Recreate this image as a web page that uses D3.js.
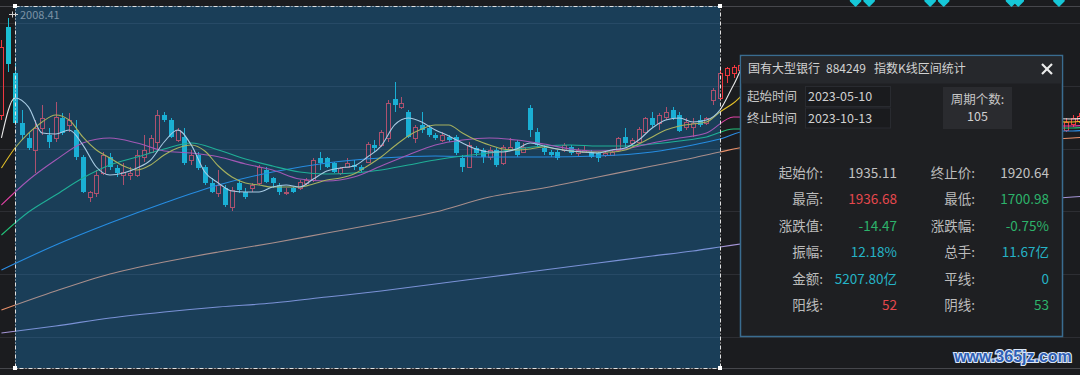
<!DOCTYPE html>
<html>
<head>
<meta charset="utf-8">
<script src="https://cdn.jsdelivr.net/npm/d3@7"></script>
<style>
  html, body { margin: 0; padding: 0; background: #1b1c1f; }
  svg { display: block; font-family: "Noto Sans CJK SC", "Noto Sans", sans-serif; }
</style>
</head>
<body>
<div id="chart"></div>
<script>
const WIDTH = 1080, HEIGHT = 375;

// trading-day index: 0 = 2023-05-10 ... 104 = 2023-10-13
const candleDays = d3.range(-2, 108).concat([155, 156, 157]);
const opens = [
  1853.5, 1993.6, 1920.4, 1840.0, 1816.9, 1797.8, 1832.8, 1821.7, 1816.9, 1848.7,
  1837.6, 1829.6, 1786.6, 1722.9, 1729.3, 1761.1, 1786.6, 1769.1, 1758.0, 1758.0,
  1758.0, 1786.6, 1794.6, 1810.5, 1853.5, 1845.5, 1813.7, 1818.5, 1781.8, 1789.8,
  1770.7, 1745.2, 1729.3, 1737.3, 1707.0, 1745.2, 1730.9, 1737.3, 1745.2, 1765.9,
  1753.2, 1742.0, 1729.3, 1737.3, 1737.3, 1745.2, 1750.0, 1785.0, 1785.0, 1777.1,
  1761.1, 1770.7, 1773.9, 1770.7, 1778.7, 1805.7, 1805.7, 1816.9, 1879.0, 1866.2,
  1858.3, 1816.9, 1837.6, 1832.8, 1821.7, 1813.7, 1818.5, 1818.5, 1785.0, 1770.7,
  1801.0, 1797.8, 1786.6, 1797.8, 1777.1, 1797.8, 1810.5, 1794.6, 1864.6, 1826.4,
  1801.0, 1794.6, 1794.6, 1797.8, 1802.5, 1793.0, 1794.6, 1794.6, 1793.0, 1789.8,
  1789.8, 1797.8, 1818.5, 1808.9, 1810.5, 1826.4, 1848.7, 1840.8, 1850.3, 1861.5,
  1853.5, 1834.4, 1834.4, 1845.5, 1840.8, 1877.4, 1880.6, 1917.2, 1920.4, 1925.2,
  1829.6, 1839.2, 1844.0
];
const highs = [
  1972.9, 2008.41, 1936.68, 1861.5, 1824.8, 1845.5, 1869.4, 1832.8, 1874.2, 1856.7,
  1856.7, 1845.5, 1789.8, 1732.5, 1765.9, 1794.6, 1793.0, 1773.9, 1777.1, 1770.7,
  1797.8, 1821.7, 1821.7, 1861.5, 1858.3, 1848.7, 1832.8, 1832.8, 1797.8, 1794.6,
  1773.9, 1753.2, 1765.9, 1742.0, 1738.8, 1750.0, 1737.3, 1745.2, 1773.9, 1770.7,
  1754.8, 1745.2, 1737.3, 1738.8, 1750.0, 1753.2, 1785.0, 1794.6, 1786.6, 1778.7,
  1770.7, 1785.0, 1781.8, 1773.9, 1810.5, 1813.7, 1829.6, 1877.4, 1906.0, 1882.2,
  1861.5, 1837.6, 1858.3, 1837.6, 1824.8, 1826.4, 1821.7, 1821.7, 1789.8, 1810.5,
  1804.1, 1801.0, 1802.5, 1801.0, 1805.7, 1816.9, 1813.7, 1808.9, 1869.4, 1832.8,
  1805.7, 1797.8, 1797.8, 1808.9, 1805.7, 1801.0, 1805.7, 1797.8, 1794.6, 1796.2,
  1797.8, 1818.5, 1832.8, 1816.9, 1834.4, 1850.3, 1858.3, 1856.7, 1866.2, 1866.2,
  1858.3, 1848.7, 1848.7, 1853.5, 1850.3, 1896.5, 1925.2, 1929.9, 1933.1, 1937.9,
  1848.7, 1853.5, 1856.7
];
const lows = [
  1845.5, 1922.0, 1837.6, 1813.7, 1797.8, 1761.1, 1821.7, 1801.0, 1810.5, 1821.7,
  1826.4, 1781.8, 1729.3, 1715.0, 1722.9, 1758.0, 1765.9, 1754.8, 1742.0, 1750.0,
  1754.8, 1778.7, 1793.0, 1797.8, 1842.4, 1816.9, 1810.5, 1773.9, 1773.9, 1765.9,
  1742.0, 1729.3, 1722.9, 1707.0, 1700.98, 1729.3, 1719.7, 1730.9, 1742.0, 1745.2,
  1737.3, 1726.1, 1726.1, 1729.3, 1734.1, 1742.0, 1746.8, 1765.9, 1769.1, 1761.1,
  1758.0, 1769.1, 1765.9, 1762.7, 1777.1, 1794.6, 1802.5, 1810.5, 1858.3, 1863.1,
  1816.9, 1808.9, 1824.8, 1818.5, 1813.7, 1810.5, 1810.5, 1789.8, 1762.7, 1769.1,
  1788.2, 1777.1, 1781.8, 1770.7, 1773.9, 1797.8, 1786.6, 1793.0, 1818.5, 1802.5,
  1789.8, 1786.6, 1781.8, 1794.6, 1789.8, 1786.6, 1793.0, 1785.0, 1778.7, 1786.6,
  1788.2, 1794.6, 1802.5, 1802.5, 1808.9, 1824.8, 1834.4, 1829.6, 1845.5, 1845.5,
  1826.4, 1829.6, 1818.5, 1834.4, 1837.6, 1869.4, 1877.4, 1904.5, 1912.4, 1922.0,
  1826.4, 1834.4, 1840.8
];
const closes = [
  1961.8, 1935.11, 1840.8, 1821.7, 1801.0, 1832.8, 1848.7, 1810.5, 1850.3, 1824.8,
  1845.5, 1786.6, 1730.9, 1730.9, 1758.0, 1789.8, 1770.7, 1761.1, 1762.7, 1761.1,
  1789.8, 1797.8, 1816.9, 1853.5, 1845.5, 1818.5, 1829.6, 1777.1, 1789.8, 1769.1,
  1745.2, 1730.9, 1742.0, 1710.2, 1734.1, 1734.1, 1722.9, 1742.0, 1770.7, 1746.8,
  1745.2, 1730.9, 1730.9, 1730.9, 1746.8, 1750.0, 1781.8, 1777.1, 1770.7, 1762.7,
  1769.1, 1777.1, 1770.7, 1765.9, 1807.3, 1801.0, 1826.4, 1872.6, 1869.4, 1872.6,
  1818.5, 1834.4, 1829.6, 1821.7, 1816.9, 1821.7, 1813.7, 1793.0, 1770.7, 1805.7,
  1793.0, 1786.6, 1797.8, 1773.9, 1802.5, 1802.5, 1789.8, 1802.5, 1829.6, 1805.7,
  1794.6, 1789.8, 1785.0, 1805.7, 1793.0, 1797.8, 1797.8, 1786.6, 1785.0, 1793.0,
  1794.6, 1816.9, 1808.9, 1813.7, 1831.2, 1848.7, 1837.6, 1853.5, 1858.3, 1848.7,
  1828.0, 1842.4, 1840.8, 1837.6, 1848.7, 1893.3, 1920.64, 1928.3, 1929.9, 1933.1,
  1842.4, 1848.7, 1852.0
];

// moving averages
const fineDays = d3.range(-2, 110, 2).concat([156, 158]);
const ma5 = [
  1816.9, 1880.6, 1866.0, 1824.8, 1823.2, 1829.6, 1806.0, 1770.7, 1758.0, 1761.1,
  1769.1, 1781.8, 1810.5, 1829.6, 1805.7, 1762.7, 1745.2, 1732.5, 1730.9, 1730.9,
  1738.8, 1742.0, 1738.8, 1751.6, 1764.3, 1769.1, 1772.3, 1786.6, 1804.1, 1837.6,
  1848.7, 1842.4, 1829.6, 1820.1, 1808.9, 1799.4, 1794.6, 1794.6, 1799.4, 1808.9,
  1804.1, 1799.4, 1796.2, 1794.6, 1793.0, 1797.8, 1801.0, 1813.7, 1832.8, 1845.5,
  1848.7, 1842.4, 1845.5, 1861.5, 1901.3, 1937.9,
  1847.1, 1848.7
];
const ma10 = [
  1769.1, 1801.0, 1824.8, 1842.4, 1853.5, 1845.5, 1818.5, 1797.8, 1785.0, 1772.3,
  1765.9, 1773.9, 1789.8, 1801.0, 1805.7, 1796.2, 1772.3, 1754.8, 1745.2, 1742.0,
  1738.8, 1738.8, 1738.8, 1743.6, 1750.0, 1753.2, 1759.6, 1772.3, 1786.6, 1804.1,
  1820.1, 1831.2, 1837.6, 1837.6, 1824.8, 1813.7, 1805.7, 1799.4, 1797.8, 1799.4,
  1802.5, 1799.4, 1796.2, 1794.6, 1794.6, 1794.6, 1797.8, 1807.3, 1818.5, 1829.6,
  1836.0, 1839.2, 1842.4, 1858.3, 1872.6, 1888.5,
  1842.4, 1844.0
];
const midDays = d3.range(-2, 110, 4).concat([156, 158]);
const ma20 = [
  1710.2, 1750.0, 1781.8, 1808.9, 1816.9, 1808.9, 1796.2, 1793.0, 1787.0, 1775.5,
  1765.9, 1751.6, 1748.4, 1754.8, 1772.3, 1789.8, 1805.7, 1813.7, 1816.9, 1813.7,
  1807.3, 1799.4, 1796.2, 1799.4, 1808.9, 1816.9, 1824.8, 1850.3,
  1836.0, 1837.6
];
const ma30 = [
  1662.4, 1699.0, 1726.1, 1753.2, 1773.9, 1786.6, 1799.4, 1808.9, 1797.8, 1783.4,
  1772.3, 1762.7, 1759.6, 1761.1, 1765.9, 1773.9, 1781.8, 1788.2, 1793.0, 1799.4,
  1804.1, 1805.7, 1804.1, 1804.1, 1807.3, 1812.1, 1818.5, 1831.2,
  1832.8, 1834.4
];
const coarseDays = [-2, 6, 14, 22, 30, 38, 46, 54, 62, 70, 78, 86, 94, 100, 104, 108, 156, 158];
const ma60 = [1606.7, 1646.5, 1681.5, 1713.4, 1742.0, 1762.7, 1777.1, 1785.0, 1788.2, 1786.6,
  1786.6, 1788.2, 1794.6, 1805.7, 1815.3, 1828.0, 1828.0, 1829.6];
const ma120 = [1543.0, 1573.2, 1600.3, 1619.4, 1635.3, 1649.7, 1665.6, 1681.5, 1699.0, 1722.9,
  1737.3, 1754.8, 1772.3, 1785.0, 1794.6, 1802.5, 1816.9, 1818.5];
const ma250 = [1506.4, 1517.5, 1530.2, 1539.8, 1547.8, 1554.1, 1563.6, 1573.2, 1584.4, 1595.5,
  1606.7, 1617.8, 1629.0, 1636.9, 1643.3, 1649.7, 1722.9, 1724.5];

const gridPrices = [2000, 1900, 1800, 1700, 1600, 1500];
const signalDays = [124, 126, 135, 137, 147, 148, 154];

// selection statistics
const titleParts = ["国有大型银行", "884249", "指数K线区间统计"];
const rangeLabels = ["起始时间", "终止时间"];
const rangeDates = ["2023-05-10", "2023-10-13"];
const periodCount = "105";
const statRows = [
  ["起始价:", "1935.11", "flat", "终止价:", "1920.64", "flat"],
  ["最高:", "1936.68", "up", "最低:", "1700.98", "down"],
  ["涨跌值:", "-14.47", "down", "涨跌幅:", "-0.75%", "down"],
  ["振幅:", "12.18%", "info", "总手:", "11.67亿", "info"],
  ["金额:", "5207.80亿", "info", "平线:", "0", "info"],
  ["阳线:", "52", "up", "阴线:", "53", "down"]
];

const UP = "#f0383f", DOWN = "#1bbfd2";
const TEXT_COLORS = {flat: "#c2c2c2", up: "#e5484d", down: "#2db36b", info: "#25b3c6"};

const svg = d3.select("#chart").append("svg")
    .attr("width", WIDTH)
    .attr("height", HEIGHT);

svg.append("rect").attr("width", WIDTH).attr("height", HEIGHT).attr("fill", "#1b1c1f");

const x = d3.scaleLinear().domain([0, 104]).range([15, 720]);
const y = d3.scaleLinear().domain([1500, 2000]).range([337, 23]);

// grid
svg.append("g").selectAll("line").data(gridPrices).join("line")
    .attr("x1", 0).attr("x2", WIDTH)
    .attr("y1", d => Math.round(y(d)) + 0.5)
    .attr("y2", d => Math.round(y(d)) + 0.5)
    .attr("stroke", "#2d2e33");

svg.append("g").selectAll("line").data([6.5, 368.5]).join("line")
    .attr("x1", 0).attr("x2", WIDTH)
    .attr("y1", d => d).attr("y2", d => d)
    .attr("stroke", "#46474c");

// candles
const candles = candleDays.map((d, i) => ({day: d, o: opens[i], h: highs[i], l: lows[i], c: closes[i]}));

svg.append("g").selectAll("g").data(candles).join("g")
  .each(function(d) {
    const g = d3.select(this);
    const cx = Math.round(x(d.day));
    const up = d.c > d.o;
    const top = Math.round(y(Math.max(d.o, d.c)));
    const bot = Math.round(y(Math.min(d.o, d.c)));
    const hi = Math.round(y(d.h)), lo = Math.round(y(d.l));
    if (up) {
      g.append("line").attr("x1", cx + 0.5).attr("x2", cx + 0.5).attr("y1", hi).attr("y2", top)
        .attr("stroke", UP);
      g.append("line").attr("x1", cx + 0.5).attr("x2", cx + 0.5).attr("y1", bot).attr("y2", lo)
        .attr("stroke", UP);
      g.append("rect").attr("x", cx - 1.5).attr("y", top + 0.5)
        .attr("width", 4).attr("height", Math.max(bot - top, 1))
        .attr("fill", "none").attr("stroke", UP);
    } else {
      g.append("line").attr("x1", cx + 0.5).attr("x2", cx + 0.5).attr("y1", hi).attr("y2", lo)
        .attr("stroke", DOWN);
      g.append("rect").attr("x", cx - 2).attr("y", top)
        .attr("width", 5).attr("height", Math.max(bot - top, 1))
        .attr("fill", DOWN);
    }
  });

// moving average lines
const maSeries = [
  {days: coarseDays, vals: ma250, color: "#a595d6"},
  {days: coarseDays, vals: ma120, color: "#e8906a"},
  {days: coarseDays, vals: ma60, color: "#2c8ee6"},
  {days: midDays, vals: ma30, color: "#22c07a"},
  {days: midDays, vals: ma20, color: "#e042a6"},
  {days: fineDays, vals: ma10, color: "#e6c228"},
  {days: fineDays, vals: ma5, color: "#e8e8e8"}
];

const lineGen = d3.line()
    .x(d => x(d[0]))
    .y(d => y(d[1]))
    .curve(d3.curveMonotoneX);

svg.append("g").selectAll("path").data(maSeries).join("path")
    .attr("d", s => lineGen(s.days.map((d, i) => [d, s.vals[i]])))
    .attr("fill", "none")
    .attr("stroke", s => s.color)
    .attr("stroke-width", 1.1);

// selected interval shade
const selX0 = x(0), selX1 = x(104);
svg.append("rect")
    .attr("x", selX0).attr("y", 6)
    .attr("width", selX1 - selX0).attr("height", 362)
    .attr("fill", "rgb(27,140,215)").attr("fill-opacity", 0.31);

svg.append("rect")
    .attr("x", selX0 + 0.5).attr("y", 6.5)
    .attr("width", selX1 - selX0).attr("height", 362)
    .attr("fill", "none")
    .attr("stroke", "#e2e2e2")
    .attr("stroke-dasharray", "4,2,1,2");

svg.append("g").selectAll("rect")
  .data([[selX0, 6], [selX1, 6], [selX0, 368], [selX1, 368]])
  .join("rect")
    .attr("x", d => d[0] - 2).attr("y", d => d[1] - 2)
    .attr("width", 4).attr("height", 4)
    .attr("fill", "#ffffff");

// highest price marker
const hiIdx = highs.indexOf(d3.max(highs));
const hiY = Math.round(y(highs[hiIdx])) - 3.5;
svg.append("line").attr("x1", 9).attr("x2", 18).attr("y1", hiY).attr("y2", hiY)
    .attr("stroke", "#cfcfcf");
svg.append("line").attr("x1", 12.5).attr("x2", 12.5).attr("y1", hiY - 3).attr("y2", hiY + 3)
    .attr("stroke", "#cfcfcf");
svg.append("text")
    .attr("x", 20).attr("y", hiY + 4)
    .attr("font-size", 11)
    .attr("fill", "#7d93a5")
    .text(d3.format(".2f")(highs[hiIdx]));

// signal markers at the top
svg.append("g").selectAll("path").data(signalDays).join("path")
    .attr("transform", d => `translate(${x(d)},0)`)
    .attr("d", "M-5,-2 L5,-2 L5,1 L0,6 L-5,1 Z")
    .attr("fill", "#16c8d8")
    .attr("stroke", "#16c8d8")
    .attr("stroke-linejoin", "round")
    .attr("stroke-width", 1.5);

// statistics panel
const panel = svg.append("g");
panel.append("rect")
    .attr("x", 740.5).attr("y", 55.5).attr("width", 322).attr("height", 281)
    .attr("fill", "#1e1f22")
    .attr("stroke", "#3a6c90").attr("stroke-width", 1.5);
panel.append("rect")
    .attr("x", 741.5).attr("y", 56.5).attr("width", 320).attr("height", 27)
    .attr("fill", "#26282c");

panel.append("text")
    .attr("y", 73)
    .attr("font-size", 12)
    .attr("fill", "#d2d2d2")
  .selectAll("tspan").data(titleParts).join("tspan")
    .attr("x", (d, i) => [748, 826, 874][i])
    .text(d => d);

panel.append("g").selectAll("line").data([[1042, 64, 1052, 74], [1052, 64, 1042, 74]]).join("line")
    .attr("x1", d => d[0]).attr("y1", d => d[1]).attr("x2", d => d[2]).attr("y2", d => d[3])
    .attr("stroke", "#ececec").attr("stroke-width", 2.2);

rangeLabels.forEach((lab, i) => {
  const cy = 97 + i * 21.5;
  panel.append("text").attr("x", 747).attr("y", cy).attr("dy", "0.35em")
      .attr("font-size", 12.5).attr("fill", "#c6c6c6").text(lab);
  panel.append("rect").attr("x", 805.5).attr("y", cy - 10.5).attr("width", 85).attr("height", 20)
      .attr("fill", "#1a1b1e").attr("stroke", "#292b30");
  panel.append("text").attr("x", 808).attr("y", cy).attr("dy", "0.35em")
      .attr("font-size", 12.5).attr("fill", "#d0d0d0").text(rangeDates[i]);
});

panel.append("rect").attr("x", 943).attr("y", 87).attr("width", 69).attr("height", 42)
    .attr("fill", "#2a2b2f");
panel.append("text").attr("x", 977.5).attr("y", 100).attr("dy", "0.35em")
    .attr("text-anchor", "middle").attr("font-size", 12.5).attr("fill", "#c6c6c6").text("周期个数:");
panel.append("text").attr("x", 977.5).attr("y", 117).attr("dy", "0.35em")
    .attr("text-anchor", "middle").attr("font-size", 12.5).attr("fill", "#d0d0d0").text(periodCount);

const rows = panel.append("g").selectAll("g").data(statRows).join("g")
    .attr("transform", (d, i) => `translate(0,${173 + i * 26.5})`)
    .attr("font-size", 13.5);
rows.append("text").attr("x", 823).attr("dy", "0.35em").attr("text-anchor", "end")
    .attr("fill", "#bcbcbc").text(d => d[0]);
rows.append("text").attr("x", 897).attr("dy", "0.35em").attr("text-anchor", "end")
    .attr("fill", d => TEXT_COLORS[d[2]]).text(d => d[1]);
rows.append("text").attr("x", 975).attr("dy", "0.35em").attr("text-anchor", "end")
    .attr("fill", "#bcbcbc").text(d => d[3]);
rows.append("text").attr("x", 1049).attr("dy", "0.35em").attr("text-anchor", "end")
    .attr("fill", d => TEXT_COLORS[d[5]]).text(d => d[4]);

// watermark
svg.append("text")
    .attr("x", 1013).attr("y", 362)
    .attr("text-anchor", "middle")
    .attr("font-family", "Liberation Sans")
    .attr("font-weight", "bold")
    .attr("font-size", 16)
    .attr("fill", "#2e5fb5")
    .attr("stroke", "#dbe6f7")
    .attr("stroke-width", 2.2)
    .attr("paint-order", "stroke")
    .text("www.365jz.com");
</script>
</body>
</html>
